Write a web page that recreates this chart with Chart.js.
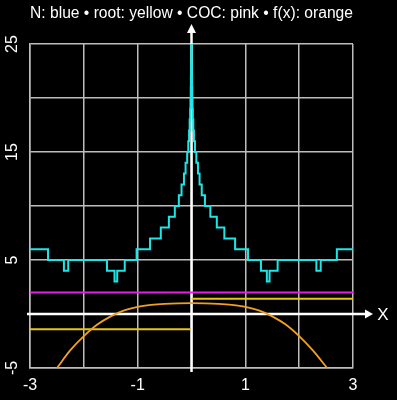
<!DOCTYPE html>
<html>
<head>
<meta charset="utf-8">
<script src="https://cdn.jsdelivr.net/npm/chart.js@4"></script>
<style>
  html, body { margin: 0; padding: 0; background: #000; }
  #wrap { width: 397px; height: 400px; }
</style>
</head>
<body>
<div id="wrap"><canvas id="chart" width="397" height="400"></canvas></div>
<script>
// ---- values ----

// N (blue): step function, value holds from each x until the next x
const nX = [-3, -2.665, -2.37, -2.29, -1.57, -1.43, -1.38, -1.24, -1.02, -0.77, -0.57, -0.42, -0.31,
  -0.235, -0.185, -0.14, -0.11, -0.08, -0.06, -0.045, -0.034, -0.025, -0.019, -0.014, -0.011,
  -0.008, -0.006, -0.0045, -0.003, 0,
  0.002, 0.003, 0.0045, 0.006, 0.008, 0.011, 0.014, 0.019, 0.025, 0.034, 0.045, 0.065, 0.09,
  0.12, 0.15, 0.19, 0.25, 0.35, 0.47, 0.61, 0.81, 1.05, 1.29, 1.40, 1.45, 1.60, 2.32, 2.40, 2.70, 3];
const nY = [6, 5, 4, 5, 4, 3, 4, 5, 6, 7, 8, 9, 10,
  11, 12, 13, 14, 15, 16, 17, 18, 19, 20, 21, 22,
  23, 24, 25, 26, 40,
  26, 25, 24, 23, 22, 21, 20, 19, 18, 17, 16, 15, 14,
  13, 12, 11, 10, 9, 8, 7, 6, 5, 4, 3, 4, 5, 4, 5, 6, 6];

// f(x) (orange)
const fX = [-2.5, -2.25, -2, -1.75, -1.5, -1.25, -1, -0.75, -0.5, -0.25, 0,
  0.25, 0.5, 0.75, 1, 1.25, 1.5, 1.75, 2, 2.25, 2.52];
const fY = [-5, -3.35, -2.05, -0.98, -0.22, 0.33, 0.66, 0.84, 0.94, 0.99, 1.0,
  0.99, 0.94, 0.84, 0.66, 0.33, -0.22, -0.98, -2.05, -3.35, -5];

// root (yellow): two flat pieces
const rootLeftX = [-3, -0.02];
const rootLeftY = [-1.41, -1.41];
const rootRightX = [0, 3];
const rootRightY = [1.41, 1.41];

// COC (pink)
const cocX = [-3, 3];
const cocY = [2, 2];

// tick labels that are shown
const xLabels = [-3, -1, 1, 3];
const yLabels = [-5, 5, 15, 25];

const pts = (xs, ys) => xs.map((x, i) => ({ x: x, y: ys[i] }));

const FONT = "'Liberation Sans', Arial, sans-serif";

// white axes with arrows through the origin
const axesPlugin = {
  id: "axes",
  beforeDatasetsDraw(chart) {
    const { ctx, chartArea: a, scales } = chart;
    const x0 = scales.x.getPixelForValue(0);
    const y0 = scales.y.getPixelForValue(0);
    ctx.save();
    ctx.strokeStyle = "#fff";
    ctx.fillStyle = "#fff";
    ctx.lineWidth = 2.5;

    ctx.beginPath();
    ctx.moveTo(a.left - 3, y0);
    ctx.lineTo(a.right + 14, y0);
    ctx.stroke();
    ctx.beginPath();
    ctx.moveTo(a.right + 20, y0);
    ctx.lineTo(a.right + 12, y0 - 4.5);
    ctx.lineTo(a.right + 12, y0 + 4.5);
    ctx.closePath();
    ctx.fill();

    ctx.beginPath();
    ctx.moveTo(x0, a.bottom + 4);
    ctx.lineTo(x0, a.top - 13);
    ctx.stroke();
    ctx.beginPath();
    ctx.moveTo(x0, a.top - 20);
    ctx.lineTo(x0 - 4.5, a.top - 11);
    ctx.lineTo(x0 + 4.5, a.top - 11);
    ctx.closePath();
    ctx.fill();

    ctx.font = "17px " + FONT;
    ctx.textAlign = "center";
    ctx.textBaseline = "middle";
    ctx.fillText("X", a.right + 30, y0 + 1);
    ctx.restore();
  }
};

new Chart(document.getElementById("chart"), {
  type: "line",
  data: {
    datasets: [
      { label: "N", data: pts(nX, nY), borderColor: "#1ee6e6", borderWidth: 2, stepped: "before" },
      { label: "f(x)", data: pts(fX, fY), borderColor: "#f0a020", borderWidth: 1.8, cubicInterpolationMode: "monotone" },
      { label: "root", data: pts(rootLeftX, rootLeftY), borderColor: "#e8c414", borderWidth: 2 },
      { label: "root2", data: pts(rootRightX, rootRightY), borderColor: "#e8c414", borderWidth: 2 },
      { label: "COC", data: pts(cocX, cocY), borderColor: "#e81ee8", borderWidth: 2 }
    ]
  },
  options: {
    responsive: false,
    animation: false,
    layout: { padding: { left: 0, right: 44, top: 0, bottom: 0 } },
    elements: { point: { radius: 0 }, line: { fill: false, tension: 0 } },
    plugins: {
      legend: { display: false },
      tooltip: { enabled: false },
      title: {
        display: true,
        fullSize: false,
        text: "N: blue \u2022 root: yellow \u2022 COC: pink \u2022 f(x): orange",
        color: "#fff",
        font: { family: FONT, size: 16, weight: "normal" },
        padding: { top: 4, bottom: 20.8 }
      }
    },
    scales: {
      x: {
        type: "linear",
        min: -3, max: 3,
        afterFit(scale) { scale.height = 32; },
        grid: { color: "#bdbdbd", lineWidth: 1.5, drawTicks: false },
        border: { color: "#bdbdbd", width: 1.5 },
        ticks: {
          stepSize: 1,
          color: "#fff",
          padding: 8,
          maxRotation: 0,
          autoSkip: false,
          font: { family: FONT, size: 16 },
          callback: v => xLabels.includes(v) ? v : ""
        }
      },
      y: {
        type: "linear",
        min: -5, max: 25,
        afterFit(scale) { scale.width = 30; },
        grid: { color: "#bdbdbd", lineWidth: 1.5, drawTicks: false },
        border: { color: "#bdbdbd", width: 1.5 },
        ticks: {
          stepSize: 5,
          color: "#fff",
          padding: 9,
          minRotation: 90,
          maxRotation: 90,
          crossAlign: "center",
          autoSkip: false,
          font: { family: FONT, size: 16 },
          callback: v => yLabels.includes(v) ? v : ""
        }
      }
    }
  },
  plugins: [axesPlugin]
});
</script>
</body>
</html>
